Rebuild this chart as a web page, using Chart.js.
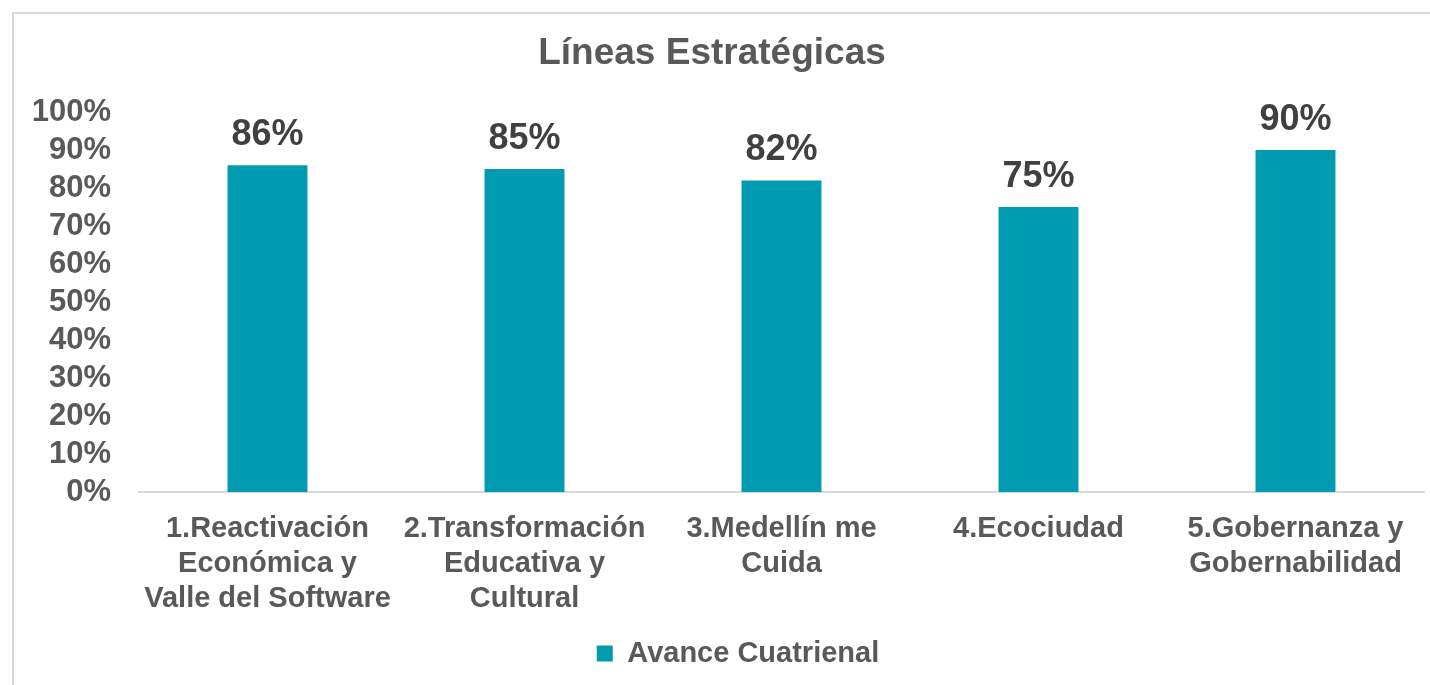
<!DOCTYPE html>
<html>
<head>
<meta charset="utf-8">
<script src="https://cdn.jsdelivr.net/npm/chart.js@4.4.1/dist/chart.umd.min.js"></script>
<style>
  html, body { margin: 0; padding: 0; background: #fff; overflow: hidden; }
  #frame {
    position: absolute; left: 12px; top: 12px; width: 1500px; height: 800px;
    border-top: 2px solid #d9d9d9; border-left: 2px solid #d9d9d9;
  }
  #wrap { position: absolute; left: 0; top: 0; width: 1430px; height: 685px; }
</style>
</head>
<body>
<div id="frame"></div>
<div id="wrap"><canvas id="chart"></canvas></div>
<script>
const categories = [
  ['1.Reactivación', 'Económica y', 'Valle del Software'],
  ['2.Transformación', 'Educativa y', 'Cultural'],
  ['3.Medellín me', 'Cuida'],
  ['4.Ecociudad'],
  ['5.Gobernanza y', 'Gobernabilidad']
];
const avanceCuatrienal = [86, 85, 82, 75, 90];
const seriesName = 'Avance Cuatrienal';

const FONT = "Arial, 'Liberation Sans', sans-serif";
const GREY = '#595959';

// value labels above the bars
const barLabels = {
  id: 'barLabels',
  afterDatasetsDraw(chart) {
    const ctx = chart.ctx;
    const meta = chart.getDatasetMeta(0);
    ctx.save();
    ctx.font = 'bold 36px ' + FONT;
    ctx.fillStyle = '#404040';
    ctx.textAlign = 'center';
    ctx.textBaseline = 'middle';
    meta.data.forEach((bar, i) => {
      ctx.fillText(avanceCuatrienal[i] + '%', bar.x, bar.y - 30);
    });
    ctx.restore();
  }
};

// legend sits a bit right of centre in the original
const legendShift = {
  id: 'legendShift',
  afterLayout(chart) {
    chart.legend.left += 26;
    chart.legend.right += 26;
  }
};

new Chart(document.getElementById('chart'), {
  type: 'bar',
  data: {
    labels: categories,
    datasets: [{
      label: seriesName,
      data: avanceCuatrienal,
      backgroundColor: '#009BB1',
      borderWidth: 0,
      barPercentage: 0.311,
      categoryPercentage: 1
    }]
  },
  options: {
    responsive: true,
    maintainAspectRatio: false,
    animation: false,
    layout: { padding: { left: 0, right: 6, top: 0, bottom: 7 } },
    plugins: {
      title: {
        display: true,
        text: 'Líneas Estratégicas',
        color: GREY,
        font: { family: FONT, size: 37, weight: 'bold' },
        padding: { top: 32, bottom: 35.6 }
      },
      legend: {
        position: 'bottom',
        labels: {
          color: GREY,
          boxWidth: 16,
          boxHeight: 16,
          padding: 10,
          font: { family: FONT, size: 29, weight: 'bold' }
        }
      },
      tooltip: { enabled: false }
    },
    scales: {
      x: {
        grid: { display: false, drawTicks: false },
        border: { display: true, color: '#d9d9d9', width: 2 },
        ticks: {
          color: GREY,
          padding: 20,
          maxRotation: 0,
          autoSkip: false,
          font: { family: FONT, size: 29, weight: 'bold', lineHeight: 1.2 }
        },
        afterFit(scale) { scale.height = 137; }
      },
      y: {
        min: 0,
        max: 100,
        grid: { display: false, drawTicks: false },
        border: { display: false },
        ticks: {
          stepSize: 10,
          autoSkip: false,
          color: GREY,
          padding: 28,
          font: { family: FONT, size: 31, weight: 'bold' },
          callback: v => v + '%'
        },
        afterFit(scale) { scale.width = 139; }
      }
    }
  },
  plugins: [barLabels, legendShift]
});
</script>
</body>
</html>
